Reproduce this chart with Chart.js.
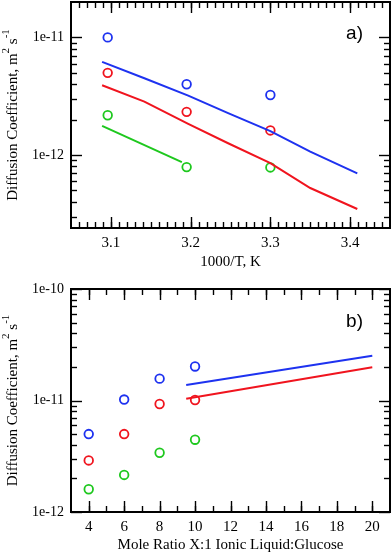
<!DOCTYPE html>
<html><head><meta charset="utf-8">
<script src="https://cdn.jsdelivr.net/npm/chart.js@4/dist/chart.umd.min.js"></script>
<style>
html,body{margin:0;padding:0;background:#fff;width:392px;height:555px;overflow:hidden}
#c1{position:absolute;left:0;top:0;width:392px;height:272px}
#c2{position:absolute;left:0;top:272px;width:392px;height:283px}
</style>
</head><body>
<canvas id="c1" width="392" height="272"></canvas>
<canvas id="c2" width="392" height="283"></canvas>
<script>
// ---------- panel a) data ----------
const invT = [3.096, 3.195, 3.300];
const expBlueA = [1.0e-11, 4.0e-12, 3.24e-12];
const expRedA = [5.0e-12, 2.33e-12, 1.62e-12];
const expGreenA = [2.18e-12, 7.9e-13, 7.85e-13];
const simInvT = [3.089, 3.142, 3.197, 3.247, 3.300, 3.350, 3.409];
const simBlueA = [6.2e-12, 4.5e-12, 3.2e-12, 2.27e-12, 1.6e-12, 1.07e-12, 7.0e-13];
const simRedA = [3.92e-12, 2.85e-12, 1.84e-12, 1.26e-12, 8.55e-13, 5.25e-13, 3.48e-13];
const simGreenInvT = [3.089, 3.189];
const simGreenA = [1.77e-12, 8.7e-13];
const xTicksA = [3.1, 3.2, 3.3, 3.4];
const yTicksA = [1e-12, 1e-11];

// ---------- panel b) data ----------
const ratioX = [4, 6, 8, 10];
const expBlueB = [5.0e-12, 1.02e-11, 1.57e-11, 2.02e-11];
const expRedB = [2.9e-12, 5.0e-12, 9.3e-12, 1.01e-11];
const expGreenB = [1.6e-12, 2.15e-12, 3.4e-12, 4.45e-12];
const simRatioX = [9.5, 20];
const simBlueB = [1.38e-11, 2.52e-11];
const simRedB = [1.035e-11, 1.99e-11];
const xTicksB = [4, 6, 8, 10, 12, 14, 16, 18, 20];
const yTicksB = [1e-12, 1e-11, 1e-10];

const BLUE = 'rgb(30,50,240)';
const RED = 'rgb(240,20,30)';
const GREEN = 'rgb(30,200,30)';
const SERIF = '"Liberation Serif","Times New Roman",serif';
const SANS = '"Liberation Sans",Arial,sans-serif';

function pts(xs, ys){ return xs.map((x,i)=>({x:x, y:ys[i]})); }
function circles(xs, ys, c){ return {data: pts(xs,ys), showLine:false, borderColor:c, backgroundColor:'rgba(0,0,0,0)', pointRadius:4.3, pointBorderWidth:1.8, pointHoverRadius:4.3}; }
function line(xs, ys, c){ return {data: pts(xs,ys), showLine:true, borderColor:c, borderWidth:2, pointRadius:0, pointHoverRadius:0, tension:0, fill:false}; }

function framePlugin(cfg){
  return {
    id:'frame'+cfg.tag,
    afterDraw(chart){
      const ctx = chart.ctx, a = chart.chartArea, xs = chart.scales.x, ys = chart.scales.y;
      const MAJ = 11, MIN = 6;
      ctx.save();
      ctx.strokeStyle = '#000';
      ctx.lineWidth = 1.4;
      const seg = (x1,y1,x2,y2)=>{ ctx.beginPath(); ctx.moveTo(x1,y1); ctx.lineTo(x2,y2); ctx.stroke(); };
      cfg.xMinor.forEach(v=>{ const p = Math.round(xs.getPixelForValue(v))+0.5; if(p<a.left+1||p>a.right-1) return; seg(p,a.bottom,p,a.bottom-MIN); seg(p,a.top,p,a.top+MIN); });
      cfg.xMajor.forEach(v=>{ const p = Math.round(xs.getPixelForValue(v))+0.5; seg(p,a.bottom,p,a.bottom-MAJ); seg(p,a.top,p,a.top+MAJ); });
      cfg.yMinor.forEach(v=>{ const p = Math.round(ys.getPixelForValue(v))+0.5; if(p<a.top+1||p>a.bottom-1) return; seg(a.left,p,a.left+MIN,p); seg(a.right,p,a.right-MIN,p); });
      cfg.yMajor.forEach(v=>{ const p = Math.round(ys.getPixelForValue(v))+0.5; seg(a.left,p,a.left+MAJ,p); seg(a.right,p,a.right-MAJ,p); });
      ctx.lineWidth = 2;
      ctx.strokeRect(a.left, a.top, a.right-a.left, a.bottom-a.top);
      ctx.fillStyle = '#000';
      ctx.font = '19px ' + SANS;
      ctx.textAlign = 'right'; ctx.textBaseline = 'middle';
      ctx.fillText(cfg.panel, a.right - 27, a.top + cfg.panelDy);
      ctx.font = '15px ' + SERIF;
      ctx.textAlign = 'center';
      ctx.fillText(cfg.xTitle, (a.left+a.right)/2, a.bottom + cfg.xTitleDy);
      ctx.save();
      const cy = (a.top+a.bottom)/2;
      ctx.translate(13, cy);
      ctx.rotate(-Math.PI/2);
      const parts = [['Diffusion Coefficient, m',0,15],['2',-7,11],[' s',0,15],['-1',-7,11]];
      let total = 0;
      parts.forEach(p=>{ ctx.font = p[2]+'px '+SERIF; total += ctx.measureText(p[0]).width; });
      let x = -total/2;
      ctx.textAlign = 'left'; ctx.textBaseline = 'middle';
      parts.forEach(p=>{ ctx.font = p[2]+'px '+SERIF; ctx.fillText(p[0], x, p[1]); x += ctx.measureText(p[0]).width; });
      ctx.restore();
      ctx.restore();
    }
  };
}

function logMinors(lo, hi){ const out=[]; for(let e=lo;e<hi;e++){ for(let m=2;m<=9;m++) out.push(m*Math.pow(10,e)); } return out; }
function linMinors(a,b,step){ const out=[]; const n=Math.round((b-a)/step); for(let i=0;i<=n;i++) out.push(+(a+i*step).toFixed(6)); return out; }

function makeChart(id, datasets, o){
  return new Chart(document.getElementById(id), {
    type:'scatter',
    data:{datasets: datasets},
    options:{
      responsive:false, animation:false, devicePixelRatio:1,
      layout:{autoPadding:false, padding:{top:o.padTop, right:2, left:0, bottom:0}},
      plugins:{legend:{display:false}, tooltip:{enabled:false}},
      scales:{
        x:{type:'linear', min:o.xMin, max:o.xMax,
           grid:{display:false, drawTicks:false}, border:{display:false},
           afterBuildTicks:(s)=>{ s.ticks = o.xTicks.map(v=>({value:v})); },
           afterFit:(s)=>{ s.height = o.xAxisH; s.paddingLeft=0; s.paddingRight=0; },
           ticks:{autoSkip:false, maxRotation:0, padding:o.xTickPad, color:'#000', font:{family:SERIF, size:15},
                  callback:(v)=>String(v)}},
        y:{type:'logarithmic', min:o.yMin, max:o.yMax,
           grid:{display:false, drawTicks:false}, border:{display:false},
           afterBuildTicks:(s)=>{ s.ticks = o.yTicks.map(v=>({value:v})); },
           afterFit:(s)=>{ s.width = 71; s.paddingTop=0; s.paddingBottom=0; },
           ticks:{autoSkip:false, padding:7, color:'#000', font:{family:SERIF, size:14},
                  callback:(v)=>Number(v).toExponential(0)}}
      }
    },
    plugins:[framePlugin(o.frame)]
  });
}

makeChart('c1', [
  line(simInvT, simBlueA, BLUE), line(simInvT, simRedA, RED), line(simGreenInvT, simGreenA, GREEN),
  circles(invT, expBlueA, BLUE), circles(invT, expRedA, RED), circles(invT, expGreenA, GREEN)
], {padTop:2, xMin:3.05, xMax:3.45, yMin:2.4e-13, yMax:2e-11, xTicks:xTicksA, yTicks:yTicksA, xAxisH:44, xTickPad:6,
    frame:{tag:'a', xMajor:xTicksA, xMinor:linMinors(3.05,3.45,0.01), yMajor:yTicksA, yMinor:logMinors(-13,-10),
           panel:'a)', panelDy:32, xTitle:'1000/T, K', xTitleDy:34}});

makeChart('c2', [
  line(simRatioX, simBlueB, BLUE), line(simRatioX, simRedB, RED),
  circles(ratioX, expBlueB, BLUE), circles(ratioX, expRedB, RED), circles(ratioX, expGreenB, GREEN)
], {padTop:17, xMin:3, xMax:21, yMin:1e-12, yMax:1e-10, xTicks:xTicksB, yTicks:yTicksB, xAxisH:43, xTickPad:6,
    frame:{tag:'b', xMajor:xTicksB, xMinor:linMinors(3,21,1), yMajor:yTicksB, yMinor:logMinors(-12,-10),
           panel:'b)', panelDy:33, xTitle:'Mole Ratio X:1 Ionic Liquid:Glucose', xTitleDy:33}});
</script>
</body></html>
